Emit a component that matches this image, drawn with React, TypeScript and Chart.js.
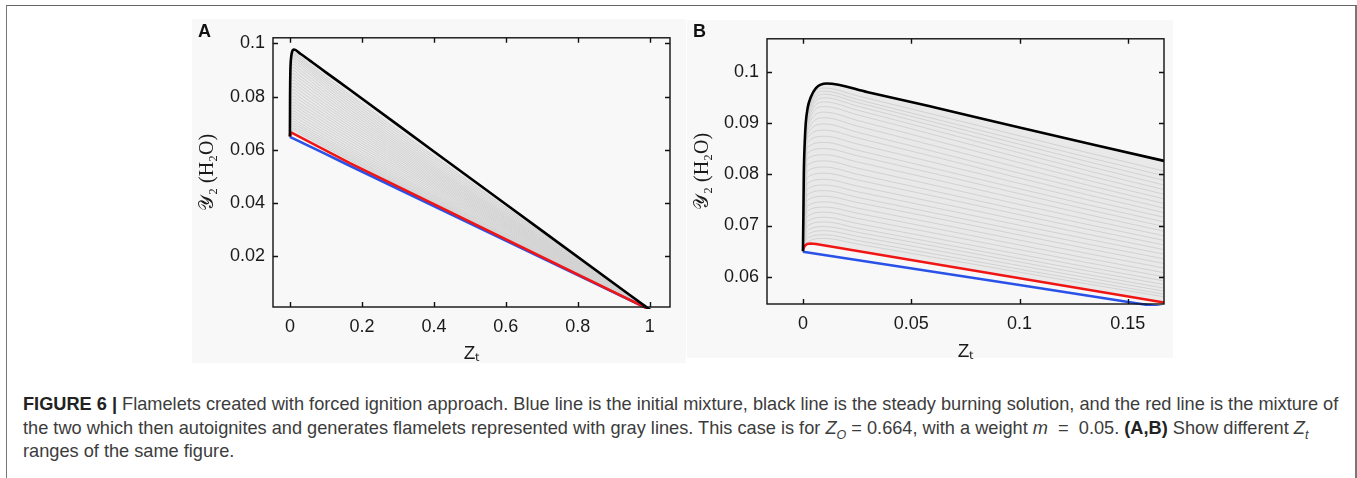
import React, { useEffect, useRef } from "react";
import { Chart, registerables } from "chart.js";

Chart.register(...registerables);

// ---------------- data ----------------
// Steady burning solution (black)
const blackZ = [0, 0.0002, 0.0004, 0.0008, 0.0013, 0.0022, 0.0036, 0.006, 0.011, 0.03, 0.06, 0.1, 0.1667, 0.4, 0.7, 1];
const blackY = [0.065, 0.072, 0.08, 0.086, 0.09, 0.093, 0.095, 0.0968, 0.0977, 0.096, 0.0931, 0.0891, 0.0826, 0.0594, 0.0297, 0];

// Mixture of the two (red)
const redZ = [0, 0.0004, 0.001, 0.002, 0.0035, 0.006, 0.1667, 1];
const redY = [0.0651, 0.0657, 0.0661, 0.0664, 0.0665, 0.0664, 0.055, 0];

// Initial mixture (blue)
const blueZ = [0, 0.1, 0.1547, 1];
const blueY = [0.0649, 0.0584, 0.0548, 0];

// Gray flamelets: value at each grayZ position, one entry per flamelet
const grayZ = [0, 0.002, 0.01, 0.025, 0.1667, 1];
const grayOrigin = 0.065;
const grayTail = 0;
const grayRise = [
  0.0915, 0.0912, 0.0908, 0.0904, 0.09, 0.0895, 0.089, 0.0884, 0.0878, 0.0871,
  0.0862, 0.0852, 0.0841, 0.083, 0.0818, 0.0806, 0.0794, 0.0782, 0.0771, 0.076,
  0.0749, 0.0738, 0.0728, 0.0718, 0.0708, 0.0699, 0.069, 0.0682, 0.0675, 0.0668,
];
const grayPeak = [
  0.0968, 0.0962, 0.0956, 0.0949, 0.0941, 0.0932, 0.0921, 0.091, 0.0898, 0.0886,
  0.0874, 0.0862, 0.085, 0.0838, 0.0826, 0.0814, 0.0802, 0.079, 0.0779, 0.0768,
  0.0757, 0.0746, 0.0736, 0.0726, 0.0716, 0.0707, 0.0698, 0.069, 0.0682, 0.0675,
];
const grayKnee = [
  0.0953, 0.0946, 0.094, 0.0933, 0.0925, 0.0916, 0.0905, 0.0894, 0.0882, 0.0871,
  0.0859, 0.0847, 0.0836, 0.0824, 0.0812, 0.08, 0.0789, 0.0777, 0.0766, 0.0755,
  0.0745, 0.0734, 0.0724, 0.0714, 0.0704, 0.0695, 0.0687, 0.0679, 0.0671, 0.0664,
];
const grayEnd = [
  0.0806, 0.0797, 0.0788, 0.0779, 0.077, 0.0761, 0.0752, 0.0743, 0.0734, 0.0725,
  0.0716, 0.0707, 0.0698, 0.0689, 0.068, 0.0671, 0.0662, 0.0653, 0.0644, 0.0635,
  0.0626, 0.0617, 0.0608, 0.06, 0.0592, 0.0585, 0.0578, 0.0572, 0.0566, 0.0561,
];

// Axes
const xTicksA = [0, 0.2, 0.4, 0.6, 0.8, 1];
const xTickLabelsA = ["0", "0.2", "0.4", "0.6", "0.8", "1"];
const yTicksA = [0.02, 0.04, 0.06, 0.08, 0.1];
const yTickLabelsA = ["0.02", "0.04", "0.06", "0.08", "0.1"];
const xRangeA = [-0.047, 1.056];
const yRangeA = [0.001, 0.1021];

const xTicksB = [0, 0.05, 0.1, 0.15];
const xTickLabelsB = ["0", "0.05", "0.1", "0.15"];
const yTicksB = [0.06, 0.07, 0.08, 0.09, 0.1];
const yTickLabelsB = ["0.06", "0.07", "0.08", "0.09", "0.1"];
const xRangeB = [-0.0166, 0.1667];
const yRangeB = [0.0547, 0.1064];

const xTitle = "Zₜ";
const yTitle = "𝒴₂ (H₂O)";

// ---------------- helpers ----------------
const pts = (zs: number[], ys: number[]) => zs.map((z, i) => ({ x: z, y: ys[i] }));

const SANS = "'Liberation Sans', Arial, Helvetica, sans-serif";
const SERIF = "'Liberation Serif', 'DejaVu Serif', 'Times New Roman', serif";

function buildDatasets() {
  const common = { pointRadius: 0, clip: 2 };
  const mono = { ...common, cubicInterpolationMode: "monotone" as const };
  const ds: any[] = [
    { ...mono, data: pts(blackZ, blackY), borderColor: "#000000", borderWidth: 2.6, fill: "+1", backgroundColor: "#e9e9e9" },
    { ...common, tension: 0, data: pts(redZ, redY), borderColor: "#f01616", borderWidth: 2.6, fill: false },
    { ...common, tension: 0, data: pts(blueZ, blueY), borderColor: "#2a52e8", borderWidth: 2.6, fill: false },
  ];
  grayPeak.forEach((p, i) => {
    ds.push({
      ...mono,
      data: pts(grayZ, [grayOrigin, grayRise[i], p, grayKnee[i], grayEnd[i], grayTail]),
      borderColor: "#d2d2d2",
      borderWidth: 1,
      fill: false,
    });
  });
  return ds;
}

const boxPlugin = {
  id: "boxTicks",
  afterDraw(chart: any) {
    const { ctx, chartArea, scales } = chart;
    const { left, right, top, bottom } = chartArea;
    const x = scales.x;
    const y = scales.y;
    ctx.save();
    ctx.strokeStyle = "#111";
    ctx.lineWidth = 1.4;
    ctx.strokeRect(left, top, right - left, bottom - top);
    ctx.beginPath();
    const L = 5;
    x.ticks.forEach((t: any) => {
      const px = Math.round(x.getPixelForValue(t.value)) + 0.5;
      ctx.moveTo(px, bottom);
      ctx.lineTo(px, bottom - L);
      ctx.moveTo(px, top);
      ctx.lineTo(px, top + L);
    });
    y.ticks.forEach((t: any) => {
      const py = Math.round(y.getPixelForValue(t.value)) + 0.5;
      ctx.moveTo(left, py);
      ctx.lineTo(left + L, py);
      ctx.moveTo(right, py);
      ctx.lineTo(right - L, py);
    });
    ctx.stroke();
    ctx.restore();
  },
};

type PanelProps = {
  left: number; top: number; width: number; height: number;
  xRange: number[]; yRange: number[];
  xTicks: number[]; xLabels: string[]; yTicks: number[]; yLabels: string[];
  yAxisW: number; xAxisH: number; padTop: number; padRight: number; yTitlePad: number;
};

function Panel(p: PanelProps) {
  const ref = useRef<HTMLCanvasElement | null>(null);
  useEffect(() => {
    if (!ref.current) return;
    const chart = new Chart(ref.current, {
      type: "line",
      data: { datasets: buildDatasets() },
      plugins: [boxPlugin],
      options: {
        animation: false,
        responsive: false,
        devicePixelRatio: 1,
        layout: { padding: { top: p.padTop, right: p.padRight, left: 0, bottom: 0 } },
        plugins: {
          legend: { display: false },
          tooltip: { enabled: false },
          filler: { drawTime: "beforeDatasetsDraw" },
        } as any,
        scales: {
          x: {
            type: "linear",
            min: p.xRange[0],
            max: p.xRange[1],
            grid: { display: false, drawTicks: false },
            border: { display: false },
            afterBuildTicks: (s: any) => { s.ticks = p.xTicks.map((v) => ({ value: v })); },
            afterFit: (s: any) => { s.height = p.xAxisH; },
            ticks: {
              autoSkip: false, maxRotation: 0, padding: 9, color: "#1a1a1a",
              font: { family: SANS, size: 18 },
              callback: (_v: any, i: number) => p.xLabels[i],
            },
            title: {
              display: true, text: xTitle, color: "#1a1a1a",
              font: { family: SANS, size: 19, lineHeight: 1 },
              padding: { top: 0, bottom: 0 },
            },
          },
          y: {
            type: "linear",
            min: p.yRange[0],
            max: p.yRange[1],
            grid: { display: false, drawTicks: false },
            border: { display: false },
            afterBuildTicks: (s: any) => { s.ticks = p.yTicks.map((v) => ({ value: v })); },
            afterFit: (s: any) => { s.width = p.yAxisW; },
            ticks: {
              autoSkip: false, padding: 8, color: "#1a1a1a",
              font: { family: SANS, size: 18 },
              callback: (_v: any, i: number) => p.yLabels[i],
            },
            title: {
              display: true, text: yTitle, color: "#1a1a1a",
              font: { family: SERIF, size: 20, lineHeight: 1 },
              padding: { top: p.yTitlePad, bottom: 0 },
            },
          },
        },
      } as any,
    });
    return () => chart.destroy();
  }, []);
  return (
    <canvas
      ref={ref}
      width={p.width}
      height={p.height}
      style={{ position: "absolute", left: p.left, top: p.top, width: p.width, height: p.height }}
    />
  );
}

export default function App() {
  const cap: React.CSSProperties = {
    position: "absolute",
    left: 23,
    whiteSpace: "nowrap",
    fontFamily: SANS,
    fontSize: 18.2,
    lineHeight: "23.5px",
    color: "#3c3c3c",
  };
  const sub: React.CSSProperties = { fontSize: 12.5, fontStyle: "italic", lineHeight: 0 };
  return (
    <div style={{ position: "absolute", left: 0, top: 0, width: 1357, height: 478, background: "#ffffff", overflow: "hidden" }}>
      <div
        style={{
          position: "absolute", left: 6, top: 5, width: 1351, height: 480, boxSizing: "border-box",
          borderTop: "1.5px solid #666", borderLeft: "1.5px solid #777", borderRight: "2px solid #777",
        }}
      />
      {/* panel backgrounds */}
      <div style={{ position: "absolute", left: 192, top: 19, width: 494, height: 344, background: "#f8f8f8" }} />
      <div style={{ position: "absolute", left: 687, top: 20, width: 486, height: 338, background: "#f8f8f8" }} />

      <Panel left={192} top={19} width={494} height={344}
        xRange={xRangeA} yRange={yRangeA}
        xTicks={xTicksA} xLabels={xTickLabelsA} yTicks={yTicksA} yLabels={yTickLabelsA}
        yAxisW={81} xAxisH={56} padTop={17} padRight={16} yTitlePad={6} />
      <Panel left={687} top={20} width={486} height={341}
        xRange={xRangeB} yRange={yRangeB}
        xTicks={xTicksB} xLabels={xTickLabelsB} yTicks={yTicksB} yLabels={yTickLabelsB}
        yAxisW={80} xAxisH={57} padTop={12} padRight={9} yTitlePad={6} />

      <div style={{ position: "absolute", left: 198, top: 21, fontFamily: SANS, fontWeight: 700, fontSize: 18, color: "#111" }}>A</div>
      <div style={{ position: "absolute", left: 693, top: 21, fontFamily: SANS, fontWeight: 700, fontSize: 18, color: "#111" }}>B</div>

      <div style={{ ...cap, top: 393 }}>
        <b style={{ color: "#222" }}>FIGURE 6 |</b> Flamelets created with forced ignition approach. Blue line is the initial mixture, black line is the steady burning solution, and the red line is the mixture of
      </div>
      <div style={{ ...cap, top: 416.5 }}>
        the two which then autoignites and generates flamelets represented with gray lines. This case is for <i>Z</i>
        <sub style={sub}>O</sub> = 0.664, with a weight <i>m</i>&nbsp; = &nbsp;0.05.{" "}
        <b style={{ color: "#222" }}>(A,B)</b> Show different <i>Z</i>
        <sub style={sub}>t</sub>
      </div>
      <div style={{ ...cap, top: 440 }}>ranges of the same figure.</div>
    </div>
  );
}
